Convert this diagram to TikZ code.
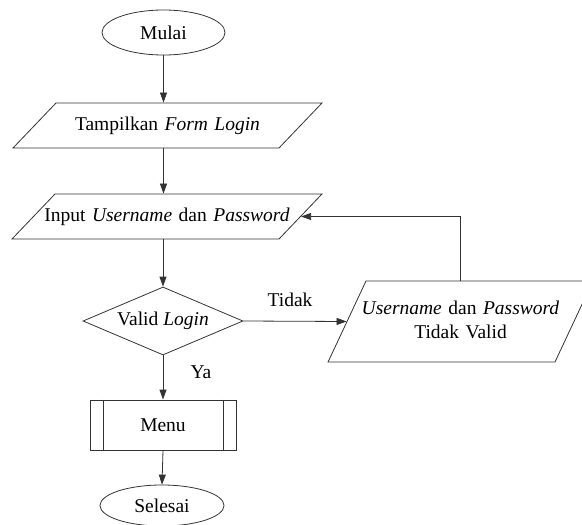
\documentclass[tikz,border=0pt]{standalone}
\usepackage{fontspec}
\setmainfont{Liberation Serif}
\usetikzlibrary{shapes.geometric,arrows.meta}

\begin{document}
\begin{tikzpicture}[x=1pt,y=-1pt,
    font=\rmfamily\fontsize{19.5}{24}\selectfont,
    line/.style={draw=black!80,line width=0.8pt},
    arr/.style={line,-{Triangle[length=10pt,width=7pt]}},
    terminal/.style={line,ellipse,inner sep=0pt},
    io/.style={line,trapezium,align=center,text height=14pt,text depth=5pt},
    decision/.style={line,diamond,aspect=2.35,inner sep=0pt},
    lbl/.style={inner sep=0pt}]

% Fix the page size
\useasboundingbox (0,0) rectangle (582,525);

% ===== Start =====
\node[terminal,minimum width=123pt,minimum height=45pt] (mulai) at (163.5,32.5) {Mulai};

% ===== Show the login form =====
\node[io,trapezium left angle=46.3,trapezium right angle=133.7,
      text width=263pt,inner xsep=-20pt,inner ysep=13pt] (form) at (167.5,125.5)
      {Tampilkan \textit{Form Login}};

% ===== Input username and password =====
\node[io,trapezium left angle=46.3,trapezium right angle=133.7,
      text width=264pt,inner xsep=-20pt,inner ysep=13pt] (input) at (167,216.5)
      {Input \textit{Username} dan \textit{Password}};

% ===== Check =====
\node[decision,minimum width=160pt,minimum height=68pt] (valid) at (163,321)
      {Valid \textit{Login}};

% ===== Not valid (two lines) =====
\node[io,trapezium left angle=64.9,trapezium right angle=115.1,
      text width=225pt,inner xsep=-18pt,text depth=29pt,inner ysep=19pt]
      (gagal) at (460.5,321.5)
      {\textit{Username} dan \textit{Password}\\Tidak Valid};

% ===== Menu =====
\node[line,minimum width=146pt,minimum height=50pt] (menu) at (163,425) {Menu};
\draw[line] ([xshift=14pt]menu.north west) -- ([xshift=14pt]menu.south west);
\draw[line] ([xshift=-13pt]menu.north east) -- ([xshift=-13pt]menu.south east);

% ===== End =====
\node[terminal,minimum width=124pt,minimum height=41pt] (selesai) at (162,505.5) {Selesai};

% Labels
\node[lbl] (tidak) at (290,300) {Tidak};
\node[lbl] (ya) at (201,372) {Ya};

% ===== Arrows =====
\draw[arr] (mulai.south) -- (mulai.south |- form.north);
\draw[arr] (form.south -| mulai.south) -- (input.north -| mulai.south);
\draw[arr] (input.south -| valid.north) -- (valid.north);
\draw[arr] (valid.east) -- (gagal.west);
\draw[arr] (gagal.north) |- (input.east);
\draw[arr] (valid.south) -- (menu.north);
\draw[arr] (menu.south) -- (selesai.north);

\end{tikzpicture}
\end{document}
